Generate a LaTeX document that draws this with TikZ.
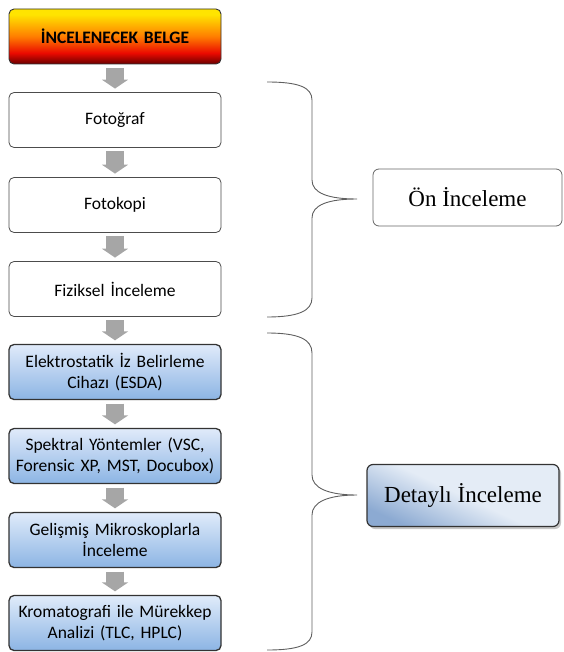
\documentclass[tikz,border=0pt]{standalone}
\usepackage{fontspec}
\setmainfont{Liberation Serif}
\newfontfamily\calibri{Carlito}
\usetikzlibrary{arrows.meta,shadows}
\definecolor{firedark}{RGB}{105,0,0}
\definecolor{firered}{RGB}{235,10,0}
\definecolor{fireorange}{RGB}{255,125,0}
\definecolor{fireyellow}{RGB}{255,228,0}
\definecolor{bTop}{RGB}{224,235,250}
\definecolor{bBot}{RGB}{140,180,228}
\definecolor{arrowgray}{RGB}{166,166,166}
\definecolor{bracegray}{RGB}{95,95,95}
\definecolor{dMid}{RGB}{228,236,246}
\definecolor{dBL}{RGB}{140,170,210}
\pgfdeclareverticalshading{fireshade}{100bp}{color(0bp)=(firedark); color(25bp)=(firedark); color(35bp)=(firered); color(50bp)=(fireorange); color(70bp)=(fireyellow); color(100bp)=(fireyellow)}
\begin{document}
\begin{tikzpicture}[x=1pt,y=-1pt,
  box/.style={rounded corners=5pt, minimum width=212pt, minimum height=55pt,
    align=center, inner sep=0pt, text width=208pt,
    font=\calibri\fontsize{17.5}{21}\selectfont},
  whitebox/.style={box, draw=black!70, fill=white, line width=0.8pt},
  bluebox/.style={box, draw=black!80, line width=1.3pt, top color=bTop, bottom color=bBot},
  firebox/.style={box, draw=black!80, line width=0.9pt, shading=fireshade,
    font=\calibri\bfseries\fontsize{17.5}{21}\selectfont},
  flow/.style={draw=arrowgray, line width=18pt, -{Triangle[width=26pt,length=9pt]},
    shorten <=3.5pt, shorten >=3.5pt},
  brace/.style={draw=bracegray, line width=0.9pt},
  labelbox/.style={rounded corners=6pt, align=center, inner sep=0pt,
    font=\fontsize{23}{26}\selectfont}
]
\useasboundingbox (0,0) rectangle (563,652);

\node[firebox]  (top) at (115,36.5) {İNCELENECEK BELGE};
\node[whitebox] (foto) at (115,120) {Fotoğraf};
\node[whitebox] (kopi) at (115,205) {Fotokopi};
\node[whitebox] (fiz)  at (115,289) {Fiziksel İnceleme};
\node[bluebox]  (esda) at (115,372) {Elektrostatik İz Belirleme\\Cihazı (ESDA)};
\node[bluebox]  (spek) at (115,456) {Spektral Yöntemler (VSC,\\Forensic XP, MST, Docubox)};
\node[bluebox]  (mikro) at (115,540) {Gelişmiş Mikroskoplarla\\İnceleme};
\node[bluebox]  (krom) at (115,623) {Kromatografi ile Mürekkep\\Analizi (TLC, HPLC)};

\draw[flow] (top) -- (foto);
\draw[flow] (foto) -- (kopi);
\draw[flow] (kopi) -- (fiz);
\draw[flow] (fiz) -- (esda);
\draw[flow] (esda) -- (spek);
\draw[flow] (spek) -- (mikro);
\draw[flow] (mikro) -- (krom);

\node[labelbox, draw=black!60, line width=0.8pt, fill=white,
  minimum width=189pt, minimum height=57pt] (on) at (467.5,197.5) {Ön İnceleme};
\node[labelbox, draw=black!80, line width=1.2pt, drop shadow={shadow xshift=2pt, shadow yshift=-2.5pt, opacity=0.45},
  shading=axis, top color=dMid, bottom color=dBL, middle color=dMid, shading angle=-25,
  minimum width=192pt, minimum height=62pt] (det) at (463,495.5) {Detaylı İnceleme};

\coordinate (tip1) at (357,199);
\coordinate (tip2) at (357,495);
\draw[brace] (267,82) .. controls (298,82) and (312,87) .. (312,100) -- (312,180)
  .. controls (312,193) and (328,199) .. (tip1)
  .. controls (328,199) and (312,205) .. (312,218) -- (312,298)
  .. controls (312,311) and (298,317) .. (267,317);
\draw[brace] (267,333) .. controls (298,333) and (312,339) .. (312,353) -- (312,475)
  .. controls (312,488) and (328,495) .. (tip2)
  .. controls (328,495) and (312,502) .. (312,515) -- (312,632)
  .. controls (312,645) and (298,650) .. (267,650);
\end{tikzpicture}
\end{document}
